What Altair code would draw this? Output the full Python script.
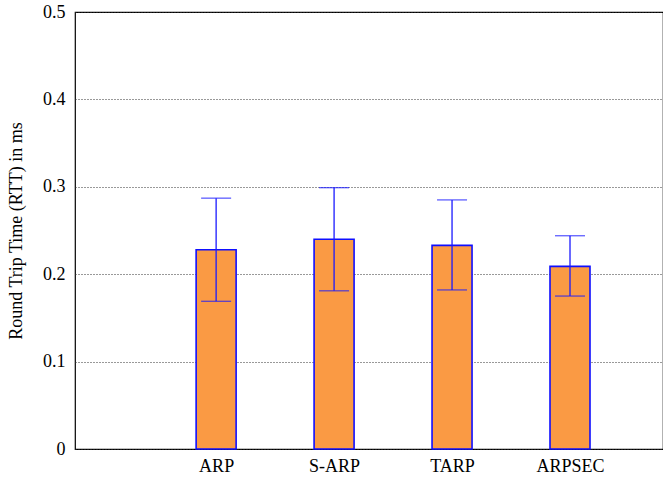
import altair as alt
import pandas as pd

categories = ["ARP", "S-ARP", "TARP", "ARPSEC"]
rtt_mean = [0.228, 0.240, 0.233, 0.209]
rtt_low = [0.169, 0.181, 0.182, 0.175]
rtt_high = [0.287, 0.299, 0.285, 0.244]

df = pd.DataFrame({
    "idx": list(range(len(categories))),
    "cat": categories,
    "mean": rtt_mean,
    "low": rtt_low,
    "high": rtt_high,
})

FONT = "Liberation Serif, Times New Roman, serif"
label_expr = "[" + ",".join(f"'{c}'" for c in categories) + "][datum.value]"

xscale = alt.Scale(domain=[-1.154, 3.746], nice=False, zero=False)
yscale = alt.Scale(domain=[0, 0.5], nice=False)

base = alt.Chart(df)

bars = base.mark_bar(size=40, fill="#fa9a44", stroke="#0f0fff", strokeWidth=1.6).encode(
    x=alt.X("idx:Q", scale=xscale,
            axis=alt.Axis(title=None, values=[0, 1, 2, 3], labelExpr=label_expr,
                          grid=False, ticks=False, domain=False, labelPadding=8)),
    y=alt.Y("mean:Q", scale=yscale,
            axis=alt.Axis(title="Round Trip Time (RTT) in ms", values=[0, 0.1, 0.2, 0.3, 0.4, 0.5],
                          format="~g", grid=True, gridColor="#333333", gridDash=[1, 2],
                          gridWidth=1, ticks=False, domain=False,
                          labelPadding=10, titlePadding=17)),
)

err = base.mark_rule(color="#1a1aff", strokeWidth=1.3).encode(
    x="idx:Q", y="low:Q", y2="high:Q"
)
cap_hi = base.mark_tick(color="#1a1aff", thickness=1.3, size=30, orient="horizontal").encode(
    x="idx:Q", y="high:Q"
)
cap_lo = base.mark_tick(color="#1a1aff", thickness=1.3, size=30, orient="horizontal").encode(
    x="idx:Q", y="low:Q"
)

chart = (bars + err + cap_hi + cap_lo).properties(
    width=588, height=437,
    background="white",
    padding={"left": 75, "top": 12, "right": 0, "bottom": 28},
    autosize=alt.AutoSizeParams(type="none"),
).configure_view(
    stroke="black", strokeWidth=1.2
).configure_axis(
    labelFont=FONT, labelFontSize=18, labelColor="black",
    titleFont=FONT, titleFontSize=18, titleFontWeight="normal", titleColor="black",
)

chart.save("out.html", embed_options={"renderer": "svg", "actions": False})
